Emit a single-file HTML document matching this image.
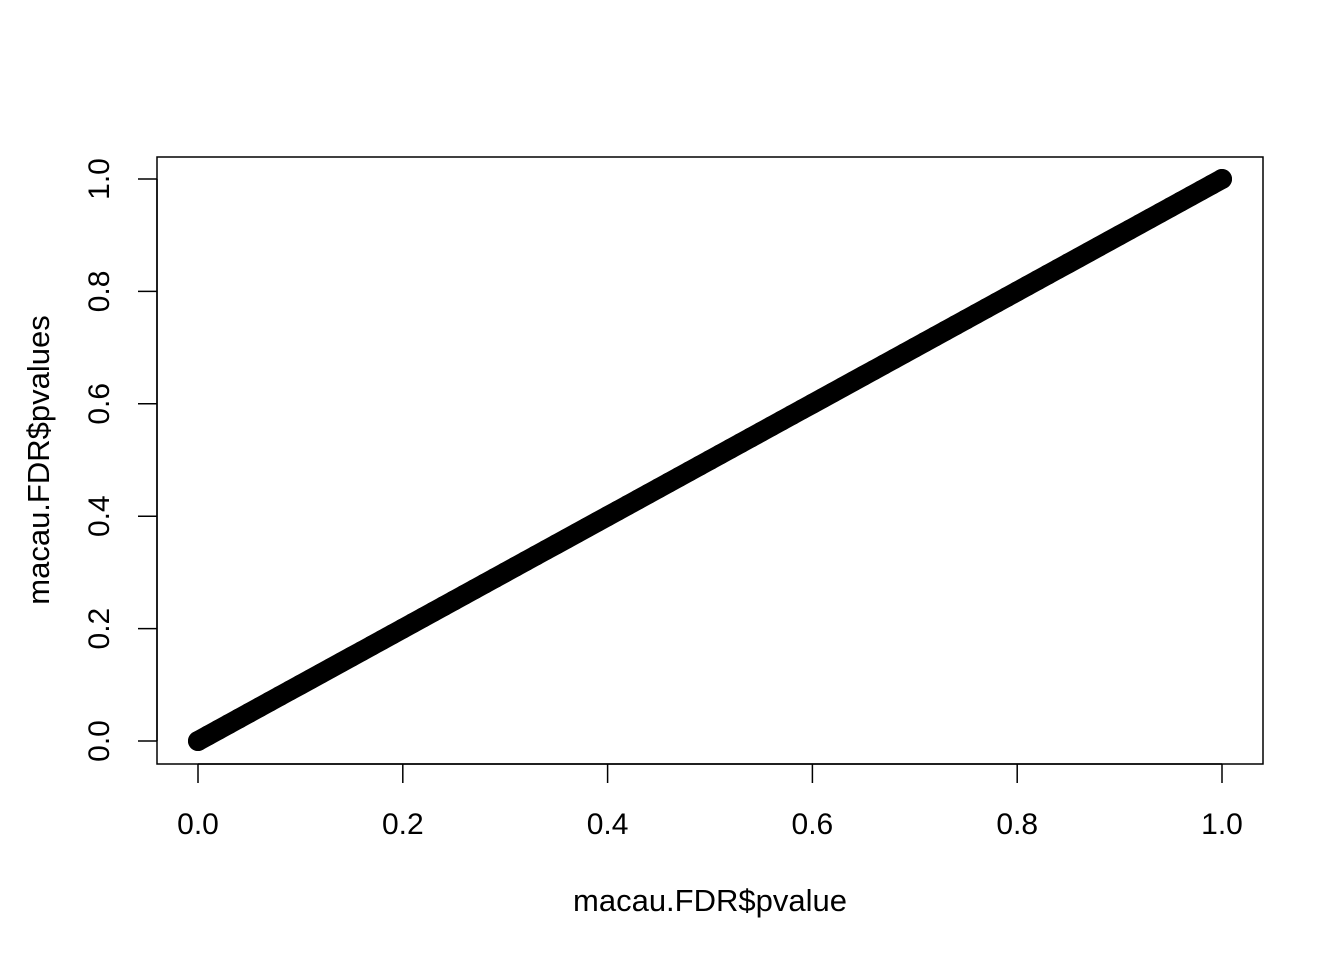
<!DOCTYPE html>
<html><head><meta charset="utf-8"><style>
html,body{margin:0;padding:0;background:#fff;}
svg text{font-family:"Liberation Sans",Arial,sans-serif;fill:#000;}
</style></head><body>
<svg id="chart" width="1344" height="960" xmlns="http://www.w3.org/2000/svg">
<rect x="157" y="157" width="1106" height="607" fill="none" stroke="#000" stroke-width="1.5"/>
<g id="xaxis"></g>
<g id="yaxis"></g>
<g id="points"></g>
<text x="710" y="911" font-size="31" text-anchor="middle">macau.FDR$pvalue</text>
<text x="0" y="0" font-size="31" text-anchor="middle" transform="translate(49,460) rotate(-90)">macau.FDR$pvalues</text>
</svg>
<script>
const xTicks = [0,0.2,0.4,0.6,0.8,1.0];
const yTicks = [0,0.2,0.4,0.6,0.8,1.0];
const xTickLabels = ["0.0","0.2","0.4","0.6","0.8","1.0"];
const yTickLabels = ["0.0","0.2","0.4","0.6","0.8","1.0"];
const xVals = [0,0.01,0.02,0.03,0.04,0.05,0.06,0.07,0.08,0.09,0.1,0.11,0.12,0.13,0.14,0.15,0.16,0.17,0.18,0.19,0.2,0.21,0.22,0.23,0.24,0.25,0.26,0.27,0.28,0.29,0.3,0.31,0.32,0.33,0.34,0.35,0.36,0.37,0.38,0.39,0.4,0.41,0.42,0.43,0.44,0.45,0.46,0.47,0.48,0.49,0.5,0.51,0.52,0.53,0.54,0.55,0.56,0.57,0.58,0.59,0.6,0.61,0.62,0.63,0.64,0.65,0.66,0.67,0.68,0.69,0.7,0.71,0.72,0.73,0.74,0.75,0.76,0.77,0.78,0.79,0.8,0.81,0.82,0.83,0.84,0.85,0.86,0.87,0.88,0.89,0.9,0.91,0.92,0.93,0.94,0.95,0.96,0.97,0.98,0.99,1.0];
const yVals = [0,0.01,0.02,0.03,0.04,0.05,0.06,0.07,0.08,0.09,0.1,0.11,0.12,0.13,0.14,0.15,0.16,0.17,0.18,0.19,0.2,0.21,0.22,0.23,0.24,0.25,0.26,0.27,0.28,0.29,0.3,0.31,0.32,0.33,0.34,0.35,0.36,0.37,0.38,0.39,0.4,0.41,0.42,0.43,0.44,0.45,0.46,0.47,0.48,0.49,0.5,0.51,0.52,0.53,0.54,0.55,0.56,0.57,0.58,0.59,0.6,0.61,0.62,0.63,0.64,0.65,0.66,0.67,0.68,0.69,0.7,0.71,0.72,0.73,0.74,0.75,0.76,0.77,0.78,0.79,0.8,0.81,0.82,0.83,0.84,0.85,0.86,0.87,0.88,0.89,0.9,0.91,0.92,0.93,0.94,0.95,0.96,0.97,0.98,0.99,1.0];

const NS = "http://www.w3.org/2000/svg";
function sx(v){ return 198 + v * (1222 - 198); }
function sy(v){ return 741 - v * (741 - 179); }
function mk(tag, attrs, parent){
  const e = document.createElementNS(NS, tag);
  for (const k in attrs) e.setAttribute(k, attrs[k]);
  parent.appendChild(e);
  return e;
}
const xg = document.getElementById('xaxis');
const yg = document.getElementById('yaxis');
const pg = document.getElementById('points');

mk('line', {x1:sx(xTicks[0]), x2:sx(xTicks[xTicks.length-1]), y1:764, y2:764, stroke:'#000','stroke-width':1.5}, xg);
xTicks.forEach((t,i)=>{
  const l = mk('line', {x1:sx(t), x2:sx(t), y1:764, y2:783, stroke:'#000','stroke-width':1.5}, xg);
  
  
  const tx = mk('text', {x:sx(t), y:834, 'font-size':30, 'text-anchor':'middle'}, xg);
  tx.textContent = xTickLabels[i];
  
  
});
mk('line', {x1:157, x2:157, y1:sy(yTicks[0]), y2:sy(yTicks[yTicks.length-1]), stroke:'#000','stroke-width':1.5}, yg);
yTicks.forEach((t,i)=>{
  const l = mk('line', {x1:138, x2:157, y1:sy(t), y2:sy(t), stroke:'#000','stroke-width':1.5}, yg);
  
  
  const tx = mk('text', {x:0, y:0, 'font-size':30, 'text-anchor':'middle', transform:'translate(109,'+sy(t)+') rotate(-90)'}, yg);
  tx.textContent = yTickLabels[i];
  
  
});
const pts = xVals.map((v,i)=> sx(v)+','+sy(yVals[i])).join(' ');
const band = mk('polyline', {points:pts, fill:'none', stroke:'#000', 'stroke-width':20, 'stroke-linecap':'round', 'stroke-linejoin':'round'}, pg);


xVals.forEach((v,i)=>{
  const c = mk('circle', {cx:sx(v), cy:sy(yVals[i]), r:10, fill:'#000'}, pg);
  
  
});
</script>
</body></html>
